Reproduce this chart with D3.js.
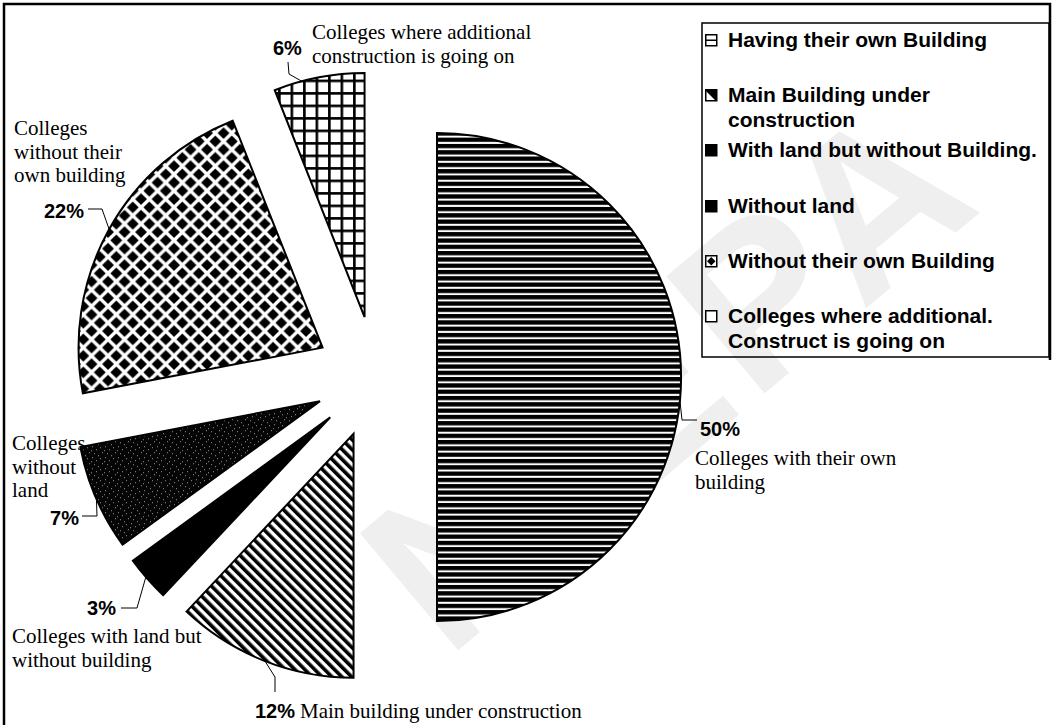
<!DOCTYPE html>
<html>
<head>
<meta charset="utf-8">
<script src="https://cdn.jsdelivr.net/npm/d3@7"></script>
<style>
  html, body { margin: 0; padding: 0; background: #fff; }
  svg { display: block; }
</style>
</head>
<body>
<svg id="chart" width="1053" height="725"></svg>
<script>
// Status of college buildings (share of colleges, %)
const categories = [
  "Having their own Building",
  "Main Building under construction",
  "With land but without Building.",
  "Without land",
  "Without their own Building",
  "Colleges where additional. Construct is going on"
];
const values = [50, 12, 3, 7, 22, 6];
const pctLabels = ["50%", "12%", "3%", "7%", "22%", "6%"];
const sliceNotes = [
  ["Colleges with their own", "building"],
  ["Main building under construction"],
  ["Colleges with land but", "without building"],
  ["Colleges", "without", "land"],
  ["Colleges", "without their", "own building"],
  ["Colleges where additional", "construction is going on"]
];
const legendLines = [
  ["Having their own Building"],
  ["Main Building under", "construction"],
  ["With land but without Building."],
  ["Without land"],
  ["Without their own Building"],
  ["Colleges where additional.", "Construct is going on"]
];

const svg = d3.select("#chart");
const defs = svg.append("defs");

// ---- fill patterns ----
function pattern(id, w, h, transform) {
  const p = defs.append("pattern").attr("id", id)
    .attr("patternUnits", "userSpaceOnUse")
    .attr("width", w).attr("height", h);
  if (transform) p.attr("patternTransform", transform);
  return p;
}
// horizontal rules
let p = pattern("pHoriz", 10, 6.3);
p.append("rect").attr("width", 10).attr("height", 6.3).attr("fill", "#fff");
p.append("rect").attr("width", 10).attr("height", 4.3).attr("fill", "#000");
// diagonal stripes
p = pattern("pDiag", 7, 7, "rotate(-45)");
p.append("rect").attr("width", 7).attr("height", 7).attr("fill", "#fff");
p.append("rect").attr("width", 3.6).attr("height", 7).attr("fill", "#000");
// solid
p = pattern("pSolid", 4, 4);
p.append("rect").attr("width", 4).attr("height", 4).attr("fill", "#000");
// black with fine speckles
p = pattern("pSpeck", 13, 11);
p.append("rect").attr("width", 13).attr("height", 11).attr("fill", "#050505");
[[1,2],[6,1],[10,4],[3,7],[8,8],[12,10],[5,5]].forEach(([x, y]) =>
  p.append("rect").attr("x", x).attr("y", y).attr("width", 0.9).attr("height", 0.9).attr("fill", "#bbb"));
// diamonds in a quincunx
const s = 16.5, dh = 5.9;
p = pattern("pDiamond", s, s);
p.append("rect").attr("width", s).attr("height", s).attr("fill", "#fff");
[[0,0],[s,0],[0,s],[s,s],[s/2,s/2]].forEach(([x, y]) =>
  p.append("path").attr("d", `M${x},${y-dh}L${x+dh},${y}L${x},${y+dh}L${x-dh},${y}Z`).attr("fill", "#000"));
// grid
p = pattern("pGrid", 12.5, 12.5, "translate(1,0)");
p.append("rect").attr("width", 12.5).attr("height", 12.5).attr("fill", "#fff");
p.append("rect").attr("width", 2.6).attr("height", 12.5).attr("fill", "#000");
p.append("rect").attr("width", 12.5).attr("height", 2.6).attr("fill", "#000");

const fills = ["url(#pHoriz)", "url(#pDiag)", "url(#pSolid)", "url(#pSpeck)", "url(#pDiamond)", "url(#pGrid)"];

// ---- watermark ----
svg.append("text")
  .attr("transform", "translate(670,372) rotate(-40)")
  .attr("text-anchor", "middle")
  .attr("dominant-baseline", "central")
  .attr("font-family", "Liberation Sans, Arial, sans-serif")
  .attr("font-weight", "bold")
  .attr("font-size", 222)
  .attr("letter-spacing", 10)
  .attr("fill", "#efefef")
  .text("NIEPA");

// ---- frame ----
svg.append("path")
  .attr("d", "M4,725V4H1050V360")
  .attr("fill", "none").attr("stroke", "#000").attr("stroke-width", 2.5);

// ---- exploded pie ----
const cx = 376, cy = 377, radius = 244, explode = 61;
const pie = d3.pie().sort(null).value(d => d);
const arcs = pie(values);
const arc = d3.arc().innerRadius(0).outerRadius(radius);

function offset(d) {
  const a = (d.startAngle + d.endAngle) / 2;
  return [cx + explode * Math.sin(a), cy - explode * Math.cos(a)];
}

const slices = svg.append("g").selectAll("g").data(arcs).join("g")
  .attr("transform", d => { const [x, y] = offset(d); return `translate(${x},${y})`; });
slices.append("path")
  .attr("d", arc)
  .attr("fill", (d, i) => fills[i])
  .attr("stroke", "#000")
  .attr("stroke-width", 2)
  .attr("stroke-linejoin", "miter");

// ---- labels with leader lines ----
// leader: angle (degrees) on the rim where the line starts, then elbow points
const leaders = [
  { ang: 95.5, pts: [[682, 420], [697, 420]] },
  { ang: 201.3, pts: [[275, 677], [275, 692]] },
  { ang: 229.1, pts: [[137, 608], [121, 608]] },
  { ang: 246.4, pts: [[97, 516], [82, 516]] },
  { ang: 299, pts: [[102, 209], [88, 209]] },
  { ang: 345.1, pts: [[289, 74], [288, 62]] }
];
const pctPos = [
  { x: 700, y: 436, anchor: "start" },
  { x: 255, y: 718, anchor: "start" },
  { x: 116, y: 615, anchor: "end" },
  { x: 79, y: 525, anchor: "end" },
  { x: 84, y: 218, anchor: "end" },
  { x: 273, y: 55, anchor: "start" }
];
const notePos = [
  { x: 695, y: 465 },
  { x: 300, y: 718 },
  { x: 12, y: 643 },
  { x: 12, y: 450 },
  { x: 14, y: 135 },
  { x: 312, y: 39 }
];

const line = d3.line();
arcs.forEach((d, i) => {
  const [ox, oy] = offset(d);
  const a = leaders[i].ang * Math.PI / 180;
  const start = [ox + radius * Math.sin(a), oy - radius * Math.cos(a)];
  svg.append("path")
    .attr("d", line([start, ...leaders[i].pts]))
    .attr("fill", "none").attr("stroke", "#000").attr("stroke-width", 1);

  svg.append("text")
    .attr("x", pctPos[i].x).attr("y", pctPos[i].y)
    .attr("text-anchor", pctPos[i].anchor)
    .attr("font-family", "Liberation Sans, Arial, sans-serif")
    .attr("font-weight", "bold").attr("font-size", 20)
    .text(pctLabels[i]);

  const t = svg.append("text")
    .attr("font-family", "Liberation Serif, Times New Roman, serif")
    .attr("font-size", 21);
  sliceNotes[i].forEach((s, k) =>
    t.append("tspan").attr("x", notePos[i].x).attr("y", notePos[i].y + k * 23.5).text(s));
});

// ---- legend ----
const lg = svg.append("g");
lg.append("rect").attr("x", 702).attr("y", 23).attr("width", 347).attr("height", 334)
  .attr("fill", "none").attr("stroke", "#000").attr("stroke-width", 1.5);
const baselines = [47, 102, 157, 213, 268, 323];
const sw = 11;
legendLines.forEach((lines, i) => {
  const g = lg.append("g").attr("transform", `translate(705,${baselines[i] - 13})`);
  const dark = i === 2 || i === 3;
  g.append("rect").attr("x", 0.75).attr("y", 0.75).attr("width", sw).attr("height", sw)
    .attr("fill", dark ? "#000" : "#fff").attr("stroke", "#000").attr("stroke-width", 1.5);
  if (i === 0) {
    g.append("line").attr("x1", 1).attr("x2", sw).attr("y1", 6.25).attr("y2", 6.25).attr("stroke", "#000").attr("stroke-width", 1.5);
  } else if (i === 1) {
    g.append("path").attr("d", `M1,1L${sw},${sw}L${sw},1Z`).attr("fill", "#000");
    g.append("line").attr("x1", 1).attr("y1", 1).attr("x2", sw).attr("y2", sw).attr("stroke", "#000").attr("stroke-width", 1.5);
  } else if (i === 4) {
    g.append("path").attr("d", "M6.25,2L10.5,6.25L6.25,10.5L2,6.25Z").attr("fill", "#000");
  }
  const t = lg.append("text")
    .attr("font-family", "Liberation Sans, Arial, sans-serif")
    .attr("font-weight", "bold").attr("font-size", 21);
  lines.forEach((s, k) =>
    t.append("tspan").attr("x", 728).attr("y", baselines[i] + k * 25).text(s));
});
</script>
</body>
</html>
